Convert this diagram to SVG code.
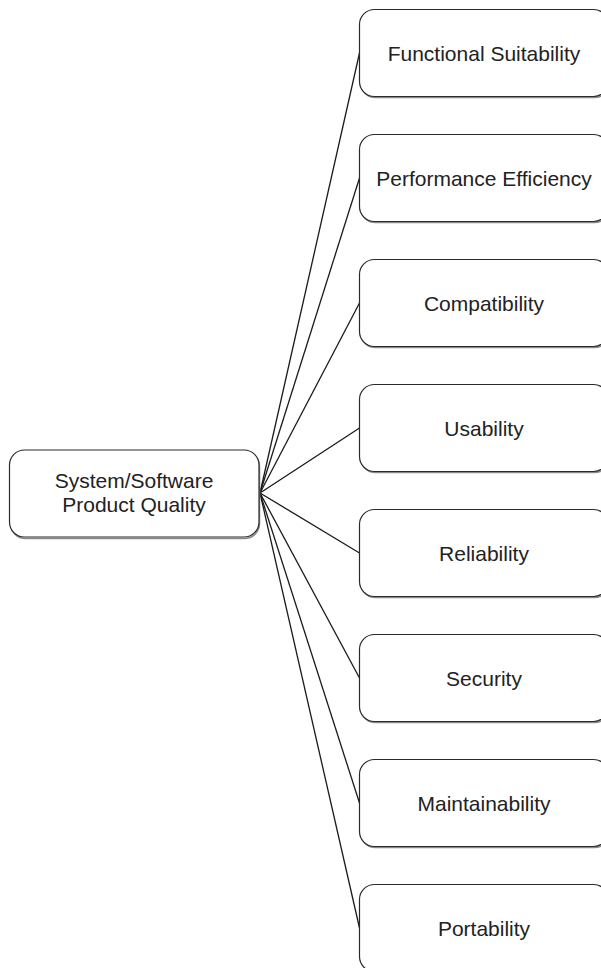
<svg xmlns="http://www.w3.org/2000/svg" width="601" height="968" viewBox="0 0 601 968">
<style>
.box{fill:#fff;stroke:#2a2a2a;stroke-width:1.2}
.sh{fill:none;stroke:#8a8a8a;stroke-width:1.5}
.t{font-family:"Liberation Sans",Arial,sans-serif;font-size:21px;fill:#222;text-anchor:middle}
.c{stroke:#1a1a1a;stroke-width:1.3;fill:none}
</style>
<rect width="601" height="968" fill="#fff"/>
<g id="connectors">
<line class="c" x1="260" y1="493" x2="359.5" y2="53"/>
<line class="c" x1="260" y1="493" x2="359.5" y2="178"/>
<line class="c" x1="260" y1="493" x2="359.5" y2="303"/>
<line class="c" x1="260" y1="493" x2="359.5" y2="428"/>
<line class="c" x1="260" y1="493" x2="359.5" y2="553"/>
<line class="c" x1="260" y1="493" x2="359.5" y2="678"/>
<line class="c" x1="260" y1="493" x2="359.5" y2="803"/>
<line class="c" x1="260" y1="493" x2="359.5" y2="928"/>
</g>
<g id="root">
<rect class="sh" x="10.5" y="451.5" width="249" height="87" rx="15"/>
<rect class="box" x="9.5" y="450" width="249.5" height="87" rx="15"/>
<text class="t" x="134" y="488">System/Software</text>
<text class="t" x="134" y="512">Product Quality</text>
</g>
<g id="n1">
<rect class="sh" x="360.5" y="10.5" width="249" height="87" rx="15"/>
<rect class="box" x="359.5" y="9.5" width="249" height="87" rx="15"/>
<text class="t" x="484" y="60.5">Functional Suitability</text>
</g>
<g id="n2">
<rect class="sh" x="360.5" y="135.5" width="249" height="87" rx="15"/>
<rect class="box" x="359.5" y="134.5" width="249" height="87" rx="15"/>
<text class="t" x="484" y="185.5">Performance Efficiency</text>
</g>
<g id="n3">
<rect class="sh" x="360.5" y="260.5" width="249" height="87" rx="15"/>
<rect class="box" x="359.5" y="259.5" width="249" height="87" rx="15"/>
<text class="t" x="484" y="310.5">Compatibility</text>
</g>
<g id="n4">
<rect class="sh" x="360.5" y="385.5" width="249" height="87" rx="15"/>
<rect class="box" x="359.5" y="384.5" width="249" height="87" rx="15"/>
<text class="t" x="484" y="435.5">Usability</text>
</g>
<g id="n5">
<rect class="sh" x="360.5" y="510.5" width="249" height="87" rx="15"/>
<rect class="box" x="359.5" y="509.5" width="249" height="87" rx="15"/>
<text class="t" x="484" y="560.5">Reliability</text>
</g>
<g id="n6">
<rect class="sh" x="360.5" y="635.5" width="249" height="87" rx="15"/>
<rect class="box" x="359.5" y="634.5" width="249" height="87" rx="15"/>
<text class="t" x="484" y="685.5">Security</text>
</g>
<g id="n7">
<rect class="sh" x="360.5" y="760.5" width="249" height="87" rx="15"/>
<rect class="box" x="359.5" y="759.5" width="249" height="87" rx="15"/>
<text class="t" x="484" y="810.5">Maintainability</text>
</g>
<g id="n8">
<rect class="sh" x="360.5" y="885.5" width="249" height="87" rx="15"/>
<rect class="box" x="359.5" y="884.5" width="249" height="87" rx="15"/>
<text class="t" x="484" y="935.5">Portability</text>
</g>
</svg>
